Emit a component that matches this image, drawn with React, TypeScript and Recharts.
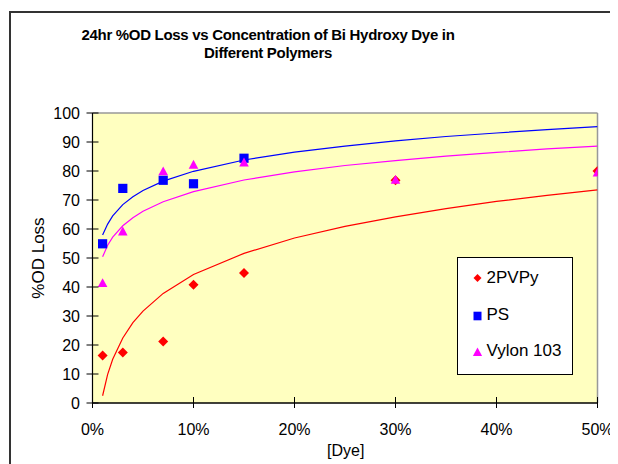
import React from 'react';
import { ComposedChart, Scatter, XAxis, YAxis, ReferenceArea, ReferenceLine, Legend } from 'recharts';

// ---- data ----
const dyeConc = [0.01, 0.03, 0.07, 0.1, 0.15, 0.3, 0.5];
const pvpyLoss = [16.4, 17.4, 21.2, 40.8, 44.8, 76.8, 80.0];
const psConc = [0.01, 0.03, 0.07, 0.1, 0.15];
const psLoss = [54.9, 74.0, 76.8, 75.6, 84.4];
const vylonLoss = [41.4, 59.2, 79.9, 82.2, 83.0, 77.0, 79.5];

// trend lines (logarithmic fits as drawn in the reference)
const trendConc = [0.01, 0.015, 0.02, 0.03, 0.04, 0.05, 0.07, 0.1, 0.15, 0.2, 0.25, 0.3, 0.35, 0.4, 0.45, 0.5];
const pvpyTrend = [2.5, 9.9, 15.1, 22.4, 27.7, 31.7, 37.8, 44.3, 51.6, 56.9, 60.9, 64.2, 67.0, 69.5, 71.6, 73.5];
const psTrend = [57.9, 61.7, 64.5, 68.4, 71.1, 73.3, 76.5, 79.9, 83.8, 86.5, 88.6, 90.4, 91.9, 93.1, 94.3, 95.3];
const vylonTrend = [50.4, 54.4, 57.2, 61.1, 63.9, 66.1, 69.4, 72.9, 76.9, 79.7, 81.9, 83.6, 85.1, 86.4, 87.6, 88.6];

const xTicks = [0, 0.1, 0.2, 0.3, 0.4, 0.5];
const yTicks = [0, 10, 20, 30, 40, 50, 60, 70, 80, 90, 100];
const seriesNames = ['2PVPy', 'PS', 'Vylon 103'];
const seriesColors = ['#FF0000', '#0000FF', '#FF00FF'];
const titleLines = ['24hr %OD Loss vs Concentration of Bi Hydroxy Dye in', 'Different Polymers'];
const xTitle = '[Dye]';
const yTitle = '%OD Loss';

const zip = (xs: number[], ys: number[]) => xs.map((x, i) => ({ x, y: ys[i] }));

const pvpyData = zip(dyeConc, pvpyLoss);
const psData = zip(psConc, psLoss);
const vylonData = zip(dyeConc, vylonLoss);
const pvpyTrendData = zip(trendConc, pvpyTrend);
const psTrendData = zip(trendConc, psTrend);
const vylonTrendData = zip(trendConc, vylonTrend);

const FONT = '"Liberation Sans", Arial, Helvetica, sans-serif';

const diamondPts = (cx: number, cy: number, r: number) =>
  `${cx},${cy - r} ${cx + r},${cy} ${cx},${cy + r} ${cx - r},${cy}`;
const trianglePts = (cx: number, cy: number, r: number) =>
  `${cx},${cy - r} ${cx + r},${cy + r * 0.85} ${cx - r},${cy + r * 0.85}`;

const DiamondShape = (p: any) => <polygon points={diamondPts(p.cx, p.cy, 5)} fill={seriesColors[0]} />;
const SquareShape = (p: any) => <rect x={p.cx - 4.6} y={p.cy - 4.6} width={9.2} height={9.2} fill={seriesColors[1]} />;
const TriangleShape = (p: any) => <polygon points={trianglePts(p.cx, p.cy, 4.8)} fill={seriesColors[2]} />;
const NoShape = () => <g />;

const XTick = (p: any) => {
  const { x, y, payload } = p;
  return (
    <g>
      <line x1={x} x2={x} y1={y - 6} y2={y + 5} stroke="#000" strokeWidth={1} />
      <text x={x} y={y + 31.5} textAnchor="middle" fontSize={16} fontFamily={FONT} fill="#000">
        {`${Math.round(payload.value * 100)}%`}
      </text>
    </g>
  );
};

const YTick = (p: any) => {
  const { x, y, payload } = p;
  return (
    <g>
      <line x1={x - 6} x2={x + 6} y1={y} y2={y} stroke="#000" strokeWidth={1} />
      <text x={x - 12.5} y={y + 5.8} textAnchor="end" fontSize={16} fontFamily={FONT} fill="#000">
        {payload.value}
      </text>
    </g>
  );
};

const LegendBox = () => {
  const rows = [
    { name: seriesNames[0], cy: 21, base: 25.6, kind: 'diamond' },
    { name: seriesNames[1], cy: 59, base: 63.3, kind: 'square' },
    { name: seriesNames[2], cy: 95, base: 99.3, kind: 'triangle' },
  ];
  return (
    <svg width={116} height={118} style={{ display: 'block' }}>
      <rect x={0.5} y={0.5} width={115} height={117} fill="#FFFFFF" stroke="#000" strokeWidth={1} />
      {rows.map((r, i) => (
        <g key={r.name}>
          {r.kind === 'diamond' && <polygon points={diamondPts(20.5, r.cy, 4)} fill={seriesColors[i]} />}
          {r.kind === 'square' && <rect x={16.5} y={r.cy - 4.3} width={8} height={8.6} fill={seriesColors[i]} />}
          {r.kind === 'triangle' && <polygon points={trianglePts(20.5, r.cy, 4.6)} fill={seriesColors[i]} />}
          <text x={29.5} y={r.base} fontSize={17} fontFamily={FONT} fill="#000">{r.name}</text>
        </g>
      ))}
    </svg>
  );
};

export default function App() {
  return (
    <div style={{ position: 'relative', width: 610, height: 456, overflow: 'hidden', background: '#fff' }}>
      <div
        style={{
          position: 'absolute', left: 1, top: 3, width: 800, height: 800,
          border: '2px solid #333', boxSizing: 'border-box',
        }}
      />
      <div style={{ position: 'absolute', left: 0, top: 0 }}>
        <ComposedChart
          width={610}
          height={456}
          margin={{ top: 105, right: 20.5, bottom: 0, left: 34.5 }}
          style={{ fontFamily: FONT }}
        >
          <XAxis
            type="number"
            dataKey="x"
            domain={[0, 0.5]}
            ticks={xTicks}
            allowDataOverflow
            height={61}
            tickSize={0}
            tickMargin={0}
            tickLine={false}
            axisLine={{ stroke: '#000', strokeWidth: 1.5 }}
            tick={<XTick />}
            interval={0}
          />
          <YAxis
            type="number"
            dataKey="y"
            domain={[0, 100]}
            ticks={yTicks}
            allowDataOverflow
            width={50}
            tickSize={0}
            tickMargin={0}
            tickLine={false}
            axisLine={{ stroke: '#000', strokeWidth: 1.2 }}
            tick={<YTick />}
            interval={0}
          />
          <ReferenceArea x1={0} x2={0.5} y1={0} y2={100} fill="#FFFFC0" fillOpacity={1} stroke="none" ifOverflow="extendDomain" />
          <ReferenceLine y={100} stroke="#999" strokeWidth={1.5} />
          <ReferenceLine x={0.5} stroke="#999" strokeWidth={1.5} />
          <Scatter name="2PVPy trend" data={pvpyTrendData} shape={NoShape} line={{ stroke: seriesColors[0], strokeWidth: 1.2 }} lineType="joint" legendType="none" isAnimationActive={false} />
          <Scatter name="PS trend" data={psTrendData} shape={NoShape} line={{ stroke: seriesColors[1], strokeWidth: 1.2 }} lineType="joint" legendType="none" isAnimationActive={false} />
          <Scatter name="Vylon 103 trend" data={vylonTrendData} shape={NoShape} line={{ stroke: seriesColors[2], strokeWidth: 1.2 }} lineType="joint" legendType="none" isAnimationActive={false} />
          <Scatter name={seriesNames[0]} data={pvpyData} shape={DiamondShape} fill={seriesColors[0]} isAnimationActive={false} />
          <Scatter name={seriesNames[1]} data={psData} shape={SquareShape} fill={seriesColors[1]} isAnimationActive={false} />
          <Scatter name={seriesNames[2]} data={vylonData} shape={TriangleShape} fill={seriesColors[2]} isAnimationActive={false} />
          <Legend
            layout="vertical"
            align="center"
            verticalAlign="middle"
            content={<LegendBox />}
            wrapperStyle={{ position: 'absolute', left: 449, top: 248.5, width: 116, height: 118, margin: 0, padding: 0 }}
          />
        </ComposedChart>
      </div>
      <svg width={610} height={456} style={{ position: 'absolute', left: 0, top: 0, pointerEvents: 'none' }}>
        <text x={260} y={32.2} textAnchor="middle" fontSize={15} fontWeight="bold" letterSpacing={-0.3} fontFamily={FONT} fill="#000">
          {titleLines[0]}
        </text>
        <text x={260} y={50.4} textAnchor="middle" fontSize={15} fontWeight="bold" letterSpacing={-0.3} fontFamily={FONT} fill="#000">
          {titleLines[1]}
        </text>
        <text
          x={30}
          y={250}
          textAnchor="middle"
          dominantBaseline="central"
          fontSize={17}
          fontFamily={FONT}
          fill="#000"
          transform="rotate(-90 30 250)"
        >
          {yTitle}
        </text>
        <text x={337.7} y={447.9} textAnchor="middle" fontSize={16} fontFamily={FONT} fill="#000">
          {xTitle}
        </text>
      </svg>
    </div>
  );
}
